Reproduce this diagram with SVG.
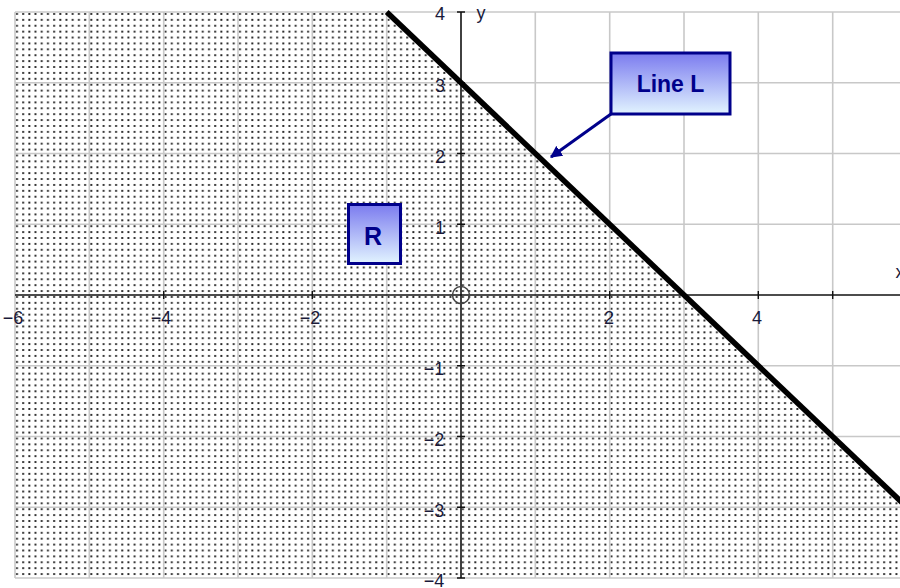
<svg xmlns="http://www.w3.org/2000/svg" width="900" height="588" viewBox="0 0 900 588">
<style>
.grid line{stroke:#c8c8c8;stroke-width:1.6}
.axis{stroke:#111;stroke-width:1.6;fill:none}
.tick{stroke:#111;stroke-width:1.4}
.num{font-family:"Liberation Sans",Arial,sans-serif;font-size:18px;fill:#1a1a3a}
.box{stroke:#00008b;stroke-width:3}
.boxtxt{font-family:"Liberation Sans",Arial,sans-serif;font-weight:bold;fill:#00008b;text-anchor:middle}
</style>
<defs>
<pattern id="dots" patternUnits="userSpaceOnUse" x="14" y="11" width="6.194" height="5.896">
<rect x="2" y="2" width="1.9" height="1.9" fill="#222"/>
</pattern>
<linearGradient id="boxg" x1="0" y1="0" x2="0" y2="1">
<stop offset="0" stop-color="#7b7bef"/>
<stop offset="1" stop-color="#e2f4ff"/>
</linearGradient>
<marker id="arr" viewBox="0 0 10 10" refX="9" refY="5" markerWidth="4" markerHeight="4" orient="auto" markerUnits="strokeWidth">
<path d="M0,0 L10,5 L0,10 z" fill="#00008b"/>
</marker>
</defs>
<rect width="900" height="588" fill="#fff"/>
<g id="region-R">
<polygon points="15,12 386.7,12 907,507.25 907,578 15,578" fill="url(#dots)"/>
</g>
<g class="grid" id="grid">
<line x1="15" y1="12" x2="15" y2="578"/>
<line x1="89.3" y1="12" x2="89.3" y2="578"/>
<line x1="163.7" y1="12" x2="163.7" y2="578"/>
<line x1="238" y1="12" x2="238" y2="578"/>
<line x1="312.3" y1="12" x2="312.3" y2="578"/>
<line x1="386.7" y1="12" x2="386.7" y2="578"/>
<line x1="535.3" y1="12" x2="535.3" y2="578"/>
<line x1="609.7" y1="12" x2="609.7" y2="578"/>
<line x1="684" y1="12" x2="684" y2="578"/>
<line x1="758.3" y1="12" x2="758.3" y2="578"/>
<line x1="832.7" y1="12" x2="832.7" y2="578"/>
<line x1="15" y1="12" x2="900" y2="12"/>
<line x1="15" y1="82.75" x2="900" y2="82.75"/>
<line x1="15" y1="153.5" x2="900" y2="153.5"/>
<line x1="15" y1="224.25" x2="900" y2="224.25"/>
<line x1="15" y1="365.75" x2="900" y2="365.75"/>
<line x1="15" y1="436.5" x2="900" y2="436.5"/>
<line x1="15" y1="507.25" x2="900" y2="507.25"/>
<line x1="15" y1="578" x2="900" y2="578"/>
</g>
<g id="axes">
<line class="axis" x1="15" y1="295" x2="900" y2="295"/>
<line class="axis" x1="461" y1="12" x2="461" y2="578"/>
<path class="tick" d="M163.7,291V299M312.3,291V299M609.7,291V299M758.3,291V299M832.7,291V299M457,12H465M457,82.75H465M457,153.5H465M457,224.25H465M457,365.75H465M457,436.5H465M457,507.25H465M457,578H465"/>
<circle cx="461" cy="295" r="8.5" fill="none" stroke="#444" stroke-width="1.5"/>
<text class="num" x="440" y="20" text-anchor="middle">4</text>
<text class="num" x="440" y="92" text-anchor="middle">3</text>
<text class="num" x="440" y="163" text-anchor="middle">2</text>
<text class="num" x="440" y="234" text-anchor="middle">1</text>
<text class="num" x="434" y="375" text-anchor="middle">−1</text>
<text class="num" x="434" y="446" text-anchor="middle">−2</text>
<text class="num" x="434" y="517" text-anchor="middle">−3</text>
<text class="num" x="434" y="587" text-anchor="middle">−4</text>
<text class="num" x="13" y="324" text-anchor="middle">−6</text>
<text class="num" x="161" y="324" text-anchor="middle">−4</text>
<text class="num" x="310" y="324" text-anchor="middle">−2</text>
<text class="num" x="609" y="324" text-anchor="middle">2</text>
<text class="num" x="757" y="324" text-anchor="middle">4</text>
<text class="num" x="905" y="324" text-anchor="middle">6</text>
<text class="num" x="900" y="278" text-anchor="middle">x</text>
<text class="num" x="481" y="19" text-anchor="middle">y</text>
</g>
<g id="line-L">
<line x1="386.7" y1="12" x2="907" y2="507.25" stroke="#000" stroke-width="5.5"/>
</g>
<g id="connectors">
<line x1="611" y1="114" x2="551" y2="157" stroke="#00008b" stroke-width="3" marker-end="url(#arr)"/>
</g>
<g id="label-line-L">
<rect class="box" x="611" y="53" width="119" height="61" fill="url(#boxg)"/>
<text class="boxtxt" x="670.5" y="92" font-size="23">Line L</text>
</g>
<g id="label-R">
<rect class="box" x="348.5" y="204.5" width="52" height="59" fill="url(#boxg)"/>
<text class="boxtxt" x="373" y="245" font-size="25">R</text>
</g>
</svg>
